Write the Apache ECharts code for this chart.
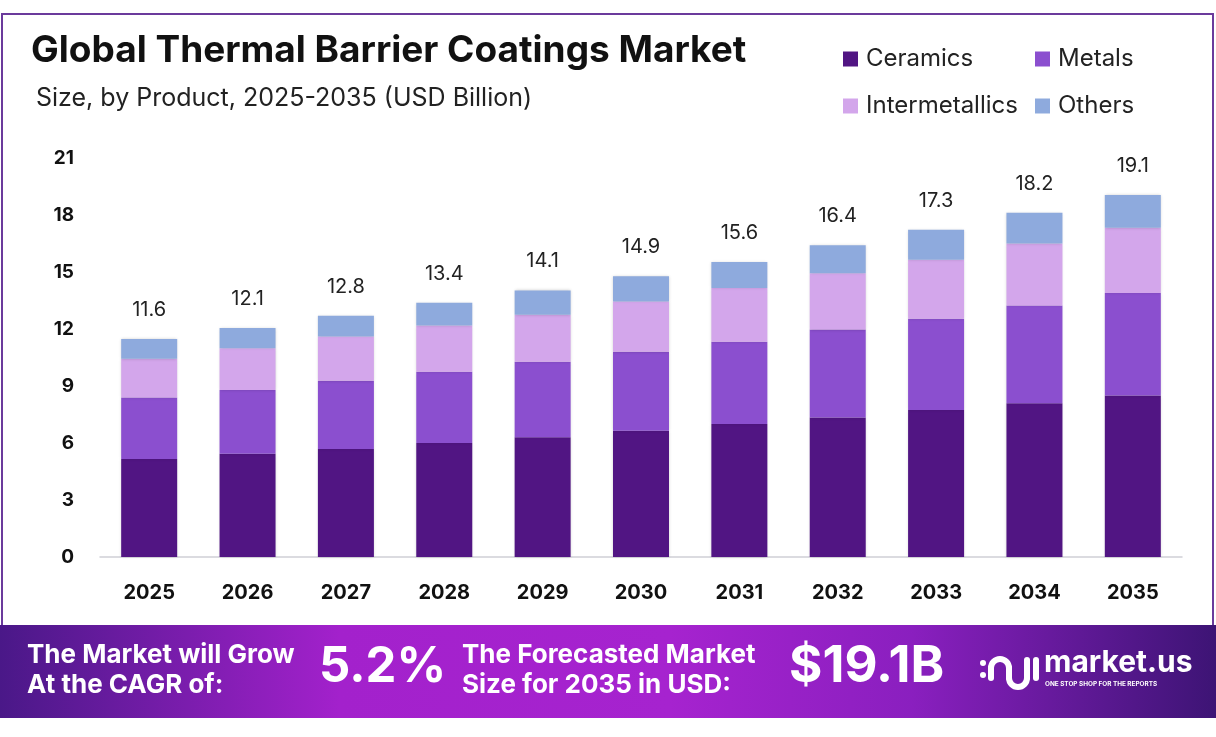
<!DOCTYPE html>
<html>
<head>
<meta charset="utf-8">
<script src="https://cdn.jsdelivr.net/npm/echarts@6/dist/echarts.min.js"></script>
<style>
html,body{margin:0;padding:0;background:#fff;}
#chart{width:1216px;height:737px;}
</style>
</head>
<body>
<div id="chart"></div>
<script>
const years = ['2025','2026','2027','2028','2029','2030','2031','2032','2033','2034','2035'];
const ceramics = [5.16, 5.43, 5.68, 6.00, 6.30, 6.65, 7.00, 7.34, 7.74, 8.09, 8.50];
const metals = [3.23, 3.36, 3.59, 3.75, 3.97, 4.15, 4.33, 4.63, 4.80, 5.15, 5.40];
const intermetallics = [2.04, 2.20, 2.34, 2.43, 2.48, 2.65, 2.83, 2.96, 3.11, 3.26, 3.43];
const others = [1.04, 1.06, 1.09, 1.20, 1.28, 1.32, 1.37, 1.48, 1.58, 1.62, 1.72];
const totals = ['11.6','12.1','12.8','13.4','14.1','14.9','15.6','16.4','17.3','18.2','19.1'];
const yTicks = [0, 3, 6, 9, 12, 15, 18, 21];

const chart = echarts.init(document.getElementById('chart'));
const FONT = 'Inter, "Open Sans", sans-serif';

function barSeries(name, data, color, isTop) {
  const s = {
    name: name, type: 'bar', stack: 'total', data: data, barWidth: 56,
    itemStyle: {color: color, shadowColor: 'rgba(0,0,0,0.18)', shadowBlur: 3},
    emphasis: {disabled: true}
  };
  if (isTop) {
    s.label = {
      show: true, position: 'top', distance: 19,
      formatter: p => totals[p.dataIndex],
      fontFamily: FONT, fontSize: 20, color: '#222'
    };
  }
  return s;
}

function legendItem(name, left, top) {
  return {data: [name], left: left, top: top, itemWidth: 15, itemHeight: 15, icon: 'rect',
    textStyle: {fontFamily: FONT, fontSize: 24, color: '#222', padding: [0, 0, 0, 3]}};
}

chart.setOption({
  animation: false,
  backgroundColor: '#fff',
  title: [
    {text: 'Global Thermal Barrier Coatings Market', left: 26, top: 27,
     textStyle: {fontFamily: FONT, fontWeight: 'bold', fontSize: 37, color: '#111'}},
    {text: 'Size, by Product, 2025-2035 (USD Billion)', left: 31, top: 81,
     textStyle: {fontFamily: FONT, fontWeight: 'normal', fontSize: 25, color: '#222'}}
  ],
  legend: [
    legendItem('Ceramics', 838, 42),
    legendItem('Metals', 1030, 42),
    legendItem('Intermetallics', 838, 89),
    legendItem('Others', 1030, 89)
  ],
  grid: {left: 100, right: 34, top: 158, bottom: 180, containLabel: false},
  xAxis: {
    type: 'category', data: years,
    axisLine: {lineStyle: {color: '#cfcfd6', width: 1.5}},
    axisTick: {show: false},
    axisLabel: {fontFamily: FONT, fontWeight: 'bold', fontSize: 20, color: '#111', margin: 26}
  },
  yAxis: {
    type: 'value', min: 0, max: 21, interval: 3,
    axisLine: {show: false}, axisTick: {show: false}, splitLine: {show: false},
    axisLabel: {fontFamily: FONT, fontWeight: 'bold', fontSize: 19, color: '#111', margin: 26,
      formatter: v => yTicks.includes(v) ? String(v) : ''}
  },
  series: [
    barSeries('Ceramics', ceramics, '#511583', false),
    barSeries('Metals', metals, '#8b4fcf', false),
    barSeries('Intermetallics', intermetallics, '#d3a6eb', false),
    barSeries('Others', others, '#8eaadd', true)
  ],
  graphic: [
    {type: 'rect', silent: true, z: -1,
     shape: {x: 2, y: 14, width: 1211, height: 620},
     style: {fill: 'none', stroke: '#6b3a9c', lineWidth: 2}},
    {type: 'rect', silent: true, z: 10,
     shape: {x: 0, y: 625, width: 1216, height: 93},
     style: {fill: new echarts.graphic.LinearGradient(0, 0, 1, 0, [
       {offset: 0, color: '#4a1888'},
       {offset: 0.28, color: '#a321cc'},
       {offset: 0.55, color: '#a623cf'},
       {offset: 0.75, color: '#8a1fbf'},
       {offset: 1, color: '#3d1475'}
     ])}},
    {type: 'text', z: 11, silent: true, left: 27, top: 640,
     style: {text: 'The Market will Grow\nAt the CAGR of:', fill: '#fff', fontFamily: FONT,
       fontWeight: 'bold', fontSize: 26, lineHeight: 30}},
    {type: 'text', z: 11, silent: true, left: 319, top: 643,
     style: {text: '5.2%', fill: '#fff', fontFamily: FONT, fontWeight: 'bold', fontSize: 49,
       shadowColor: 'rgba(60,0,90,0.6)', shadowBlur: 6, shadowOffsetX: 2, shadowOffsetY: 3}},
    {type: 'text', z: 11, silent: true, left: 462, top: 640,
     style: {text: 'The Forecasted Market\nSize for 2035 in USD:', fill: '#fff', fontFamily: FONT,
       fontWeight: 'bold', fontSize: 26, lineHeight: 30}},
    {type: 'text', z: 11, silent: true, left: 789, top: 641,
     style: {text: '$19.1B', fill: '#fff', fontFamily: FONT, fontWeight: 'bold', fontSize: 51,
       shadowColor: 'rgba(60,0,90,0.6)', shadowBlur: 6, shadowOffsetX: 2, shadowOffsetY: 3}},
    // logo icon
    {type: 'circle', z: 11, silent: true, shape: {cx: 983, cy: 663, r: 3}, style: {fill: '#fff'}},
    {type: 'circle', z: 11, silent: true, shape: {cx: 983, cy: 675, r: 3}, style: {fill: '#fff'}},
    {type: 'arc', z: 11, silent: true, shape: {cx: 1000, cy: 668, r: 9, startAngle: Math.PI, endAngle: 2 * Math.PI},
     style: {stroke: '#fff', lineWidth: 6, fill: 'none', lineCap: 'round'}},
    {type: 'line', z: 11, silent: true, shape: {x1: 991, y1: 668, x2: 991, y2: 678}, style: {stroke: '#fff', lineWidth: 6, lineCap: 'round'}},
    {type: 'arc', z: 11, silent: true, shape: {cx: 1018, cy: 678, r: 9, startAngle: 0, endAngle: Math.PI},
     style: {stroke: '#fff', lineWidth: 6, fill: 'none', lineCap: 'round'}},
    {type: 'line', z: 11, silent: true, shape: {x1: 1009, y1: 668, x2: 1009, y2: 678}, style: {stroke: '#fff', lineWidth: 6, lineCap: 'round'}},
    {type: 'line', z: 11, silent: true, shape: {x1: 1027, y1: 660, x2: 1027, y2: 678}, style: {stroke: '#fff', lineWidth: 6, lineCap: 'round'}},
    {type: 'line', z: 11, silent: true, shape: {x1: 1036, y1: 660, x2: 1036, y2: 678}, style: {stroke: '#fff', lineWidth: 6, lineCap: 'round'}},
    {type: 'text', z: 11, silent: true, left: 1044, top: 648,
     style: {text: 'market.us', fill: '#fff', fontFamily: FONT, fontWeight: 'bold', fontSize: 30}},
    {type: 'text', z: 11, silent: true, left: 1045, top: 681,
     style: {text: 'ONE STOP SHOP FOR THE REPORTS', fill: '#fff', fontFamily: FONT, fontWeight: 'bold', fontSize: 6.4}}
  ]
});
</script>
</body>
</html>
